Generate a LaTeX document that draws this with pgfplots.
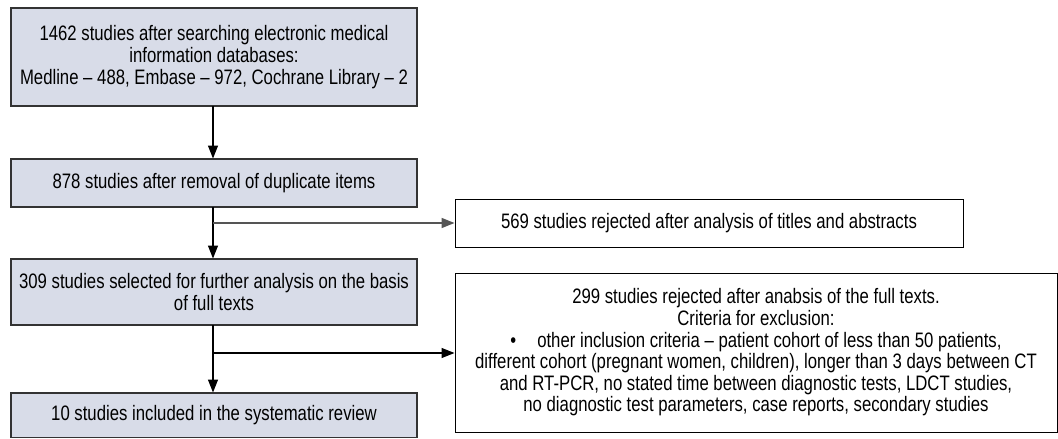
\documentclass[border=0pt]{standalone}
\usepackage{fontspec}
\setmainfont{Liberation Sans}[FakeStretch=0.8]
\usepackage{pgfplots}
\pgfplotsset{compat=1.18}
\usetikzlibrary{arrows.meta}
\definecolor{boxfill}{HTML}{D8DCE8}
\definecolor{boxline}{HTML}{333333}
\definecolor{greyline}{HTML}{555555}
\begin{document}
\begin{tikzpicture}
\begin{axis}[
  width=1058bp, height=439bp, scale only axis,
  xmin=0, xmax=1058, ymin=0, ymax=439, y dir=reverse,
  hide axis, clip=false, enlargelimits=false,
]
% invisible frame for the bounding box
\addplot[draw=none, fill=white] coordinates {(0,0) (1058,0) (1058,439) (0,439)} -- cycle;
% left boxes
\addplot[draw=boxline, line width=1.4bp, fill=boxfill] coordinates {(11,8) (417,8) (417,106) (11,106)} -- cycle;
\addplot[draw=boxline, line width=1.4bp, fill=boxfill] coordinates {(11,159) (417,159) (417,207) (11,207)} -- cycle;
\addplot[draw=boxline, line width=1.4bp, fill=boxfill] coordinates {(11,259) (417,259) (417,325) (11,325)} -- cycle;
\addplot[draw=boxline, line width=1.4bp, fill=boxfill] coordinates {(11,393) (417,393) (417,437.5) (11,437.5)} -- cycle;
% right boxes
\addplot[draw=black, line width=1bp, fill=white] coordinates {(455,199) (963,199) (963,247) (455,247)} -- cycle;
\addplot[draw=black, line width=1bp, fill=white] coordinates {(455,273) (1057,273) (1057,432) (455,432)} -- cycle;
% arrows down
\addplot[black, line width=1.2bp, -{Triangle[length=13bp,width=10bp]}] coordinates {(213,106) (213,158.5)};
\addplot[black, line width=1.2bp, -{Triangle[length=13bp,width=10bp]}] coordinates {(213,207) (213,258.5)};
\addplot[black, line width=1.2bp, -{Triangle[length=13bp,width=10bp]}] coordinates {(213,325) (213,392.5)};
% arrows right
\addplot[greyline, line width=1.6bp, -{Triangle[length=13bp,width=10bp]}] coordinates {(213,223) (454.5,223)};
\addplot[black, line width=1.2bp, -{Triangle[length=13bp,width=10bp]}] coordinates {(213,353) (454.5,353)};
% texts
\node[align=center, inner sep=0pt, font=\fontsize{21}{21.7}\selectfont] at (axis cs:214,57)
  {1462 studies after searching electronic medical\\information databases:\\Medline -- 488, Embase -- 972, Cochrane Library -- 2};
\node[align=center, inner sep=0pt, font=\fontsize{21}{21.7}\selectfont] at (axis cs:214,183)
  {878 studies after removal of duplicate items};
\node[align=center, inner sep=0pt, font=\fontsize{21}{21.7}\selectfont] at (axis cs:214,292)
  {309 studies selected for further analysis on the basis\\of full texts};
\node[align=center, inner sep=0pt, font=\fontsize{21}{21.7}\selectfont] at (axis cs:214,415.5)
  {10 studies included in the systematic review};
\node[align=center, inner sep=0pt, font=\fontsize{21}{21.7}\selectfont] at (axis cs:709,223)
  {569 studies rejected after analysis of titles and abstracts};
\node[align=center, inner sep=0pt, font=\fontsize{21}{21.7}\selectfont] at (axis cs:756,352.5)
  {299 studies rejected after anabsis of the full texts.\\Criteria for exclusion:\\\textbullet\quad other inclusion criteria -- patient cohort of less than 50 patients,\\different cohort (pregnant women, children), longer than 3 days between CT\\and RT-PCR, no stated time between diagnostic tests, LDCT studies,\\no diagnostic test parameters, case reports, secondary studies};
\end{axis}
\end{tikzpicture}
\end{document}
